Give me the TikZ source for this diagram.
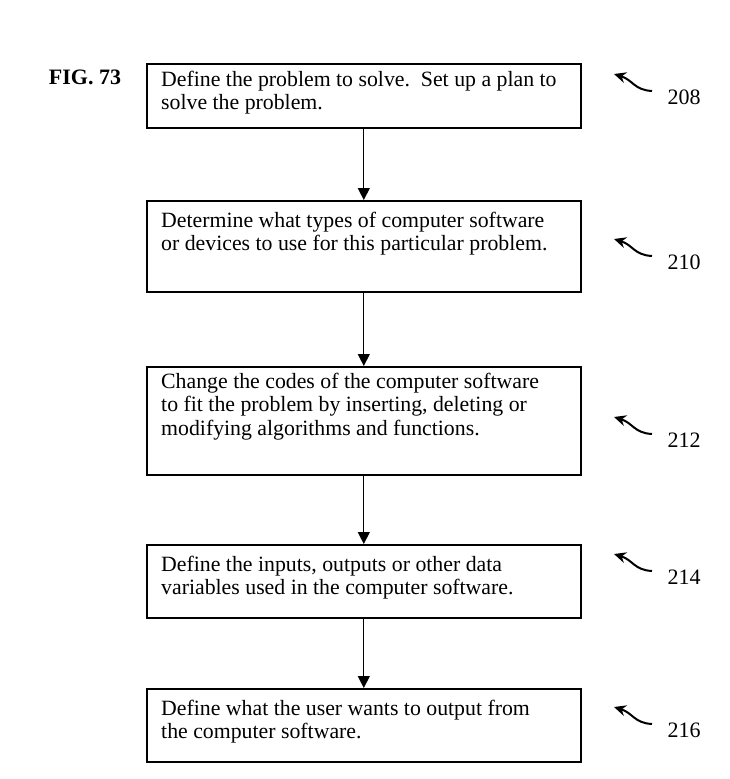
\documentclass[tikz,border=0pt]{standalone}
\usepackage{fontspec}
\setmainfont{Liberation Serif}
\usetikzlibrary{arrows.meta}

\tikzset{
  stepbox/.style={draw, line width=1.6pt, rectangle, anchor=north west,
    minimum width=434pt, inner sep=0pt},
  steptext/.style={anchor=north west, align=left, inner sep=0pt,
    font=\fontsize{21.8}{23.4}\selectfont},
  reflabel/.style={font=\fontsize{22}{23}\selectfont},
  flow/.style={line width=1.2pt, -{Triangle[length=12pt,width=12pt]}},
  hook/.style={line width=2pt, -{Stealth[length=12pt,width=11pt,inset=4pt]}}
}

\begin{document}
\begin{tikzpicture}[x=1pt, y=-1pt]
  \useasboundingbox (0,0) rectangle (730,779);
  % Nodes
  \node[font=\bfseries\fontsize{22}{23}\selectfont] (fig) at (85,77) {FIG. 73};
  \node[stepbox, minimum height=64pt] (s208) at (146,63) {};
  \node[stepbox, minimum height=91pt] (s210) at (146,200) {};
  \node[stepbox, minimum height=108pt] (s212) at (146,366) {};
  \node[stepbox, minimum height=73pt] (s214) at (146,544) {};
  \node[stepbox, minimum height=73pt] (s216) at (146,688) {};
  \node[steptext] (t208) at ([xshift=15pt,yshift=-8pt]s208.north west)
    {Define the problem to solve.\ \ Set up a plan to\\solve the problem.};
  \node[steptext] (t210) at ([xshift=15pt,yshift=-12pt]s210.north west)
    {Determine what types of computer software\\or devices to use for this particular problem.};
  \node[steptext] (t212) at ([xshift=15pt,yshift=-7pt]s212.north west)
    {Change the codes of the computer software\\to fit the problem by inserting, deleting or\\modifying algorithms and functions.};
  \node[steptext] (t214) at ([xshift=15pt,yshift=-12pt]s214.north west)
    {Define the inputs, outputs or other data\\variables used in the computer software.};
  \node[steptext] (t216) at ([xshift=15pt,yshift=-12pt]s216.north west)
    {Define what the user wants to output from\\the computer software.};
  % Reference numerals
  \foreach \num/\yy in {208/97, 210/262, 212/440, 214/577, 216/730} {
    \node[reflabel] (n\num) at (684,\yy) {\num};
    \coordinate (h\num) at (652,\yy-6);
    \coordinate (k\num) at (614,\yy-23);
    \draw[hook] (h\num) .. controls (634,\yy-7) and (633,\yy-17) .. (k\num);
  }
  % Edges
  \draw[flow] (s208) -- (s210);
  \draw[flow] (s210) -- (s212);
  \draw[flow] (s212) -- (s214);
  \draw[flow] (s214) -- (s216);
\end{tikzpicture}
\end{document}
